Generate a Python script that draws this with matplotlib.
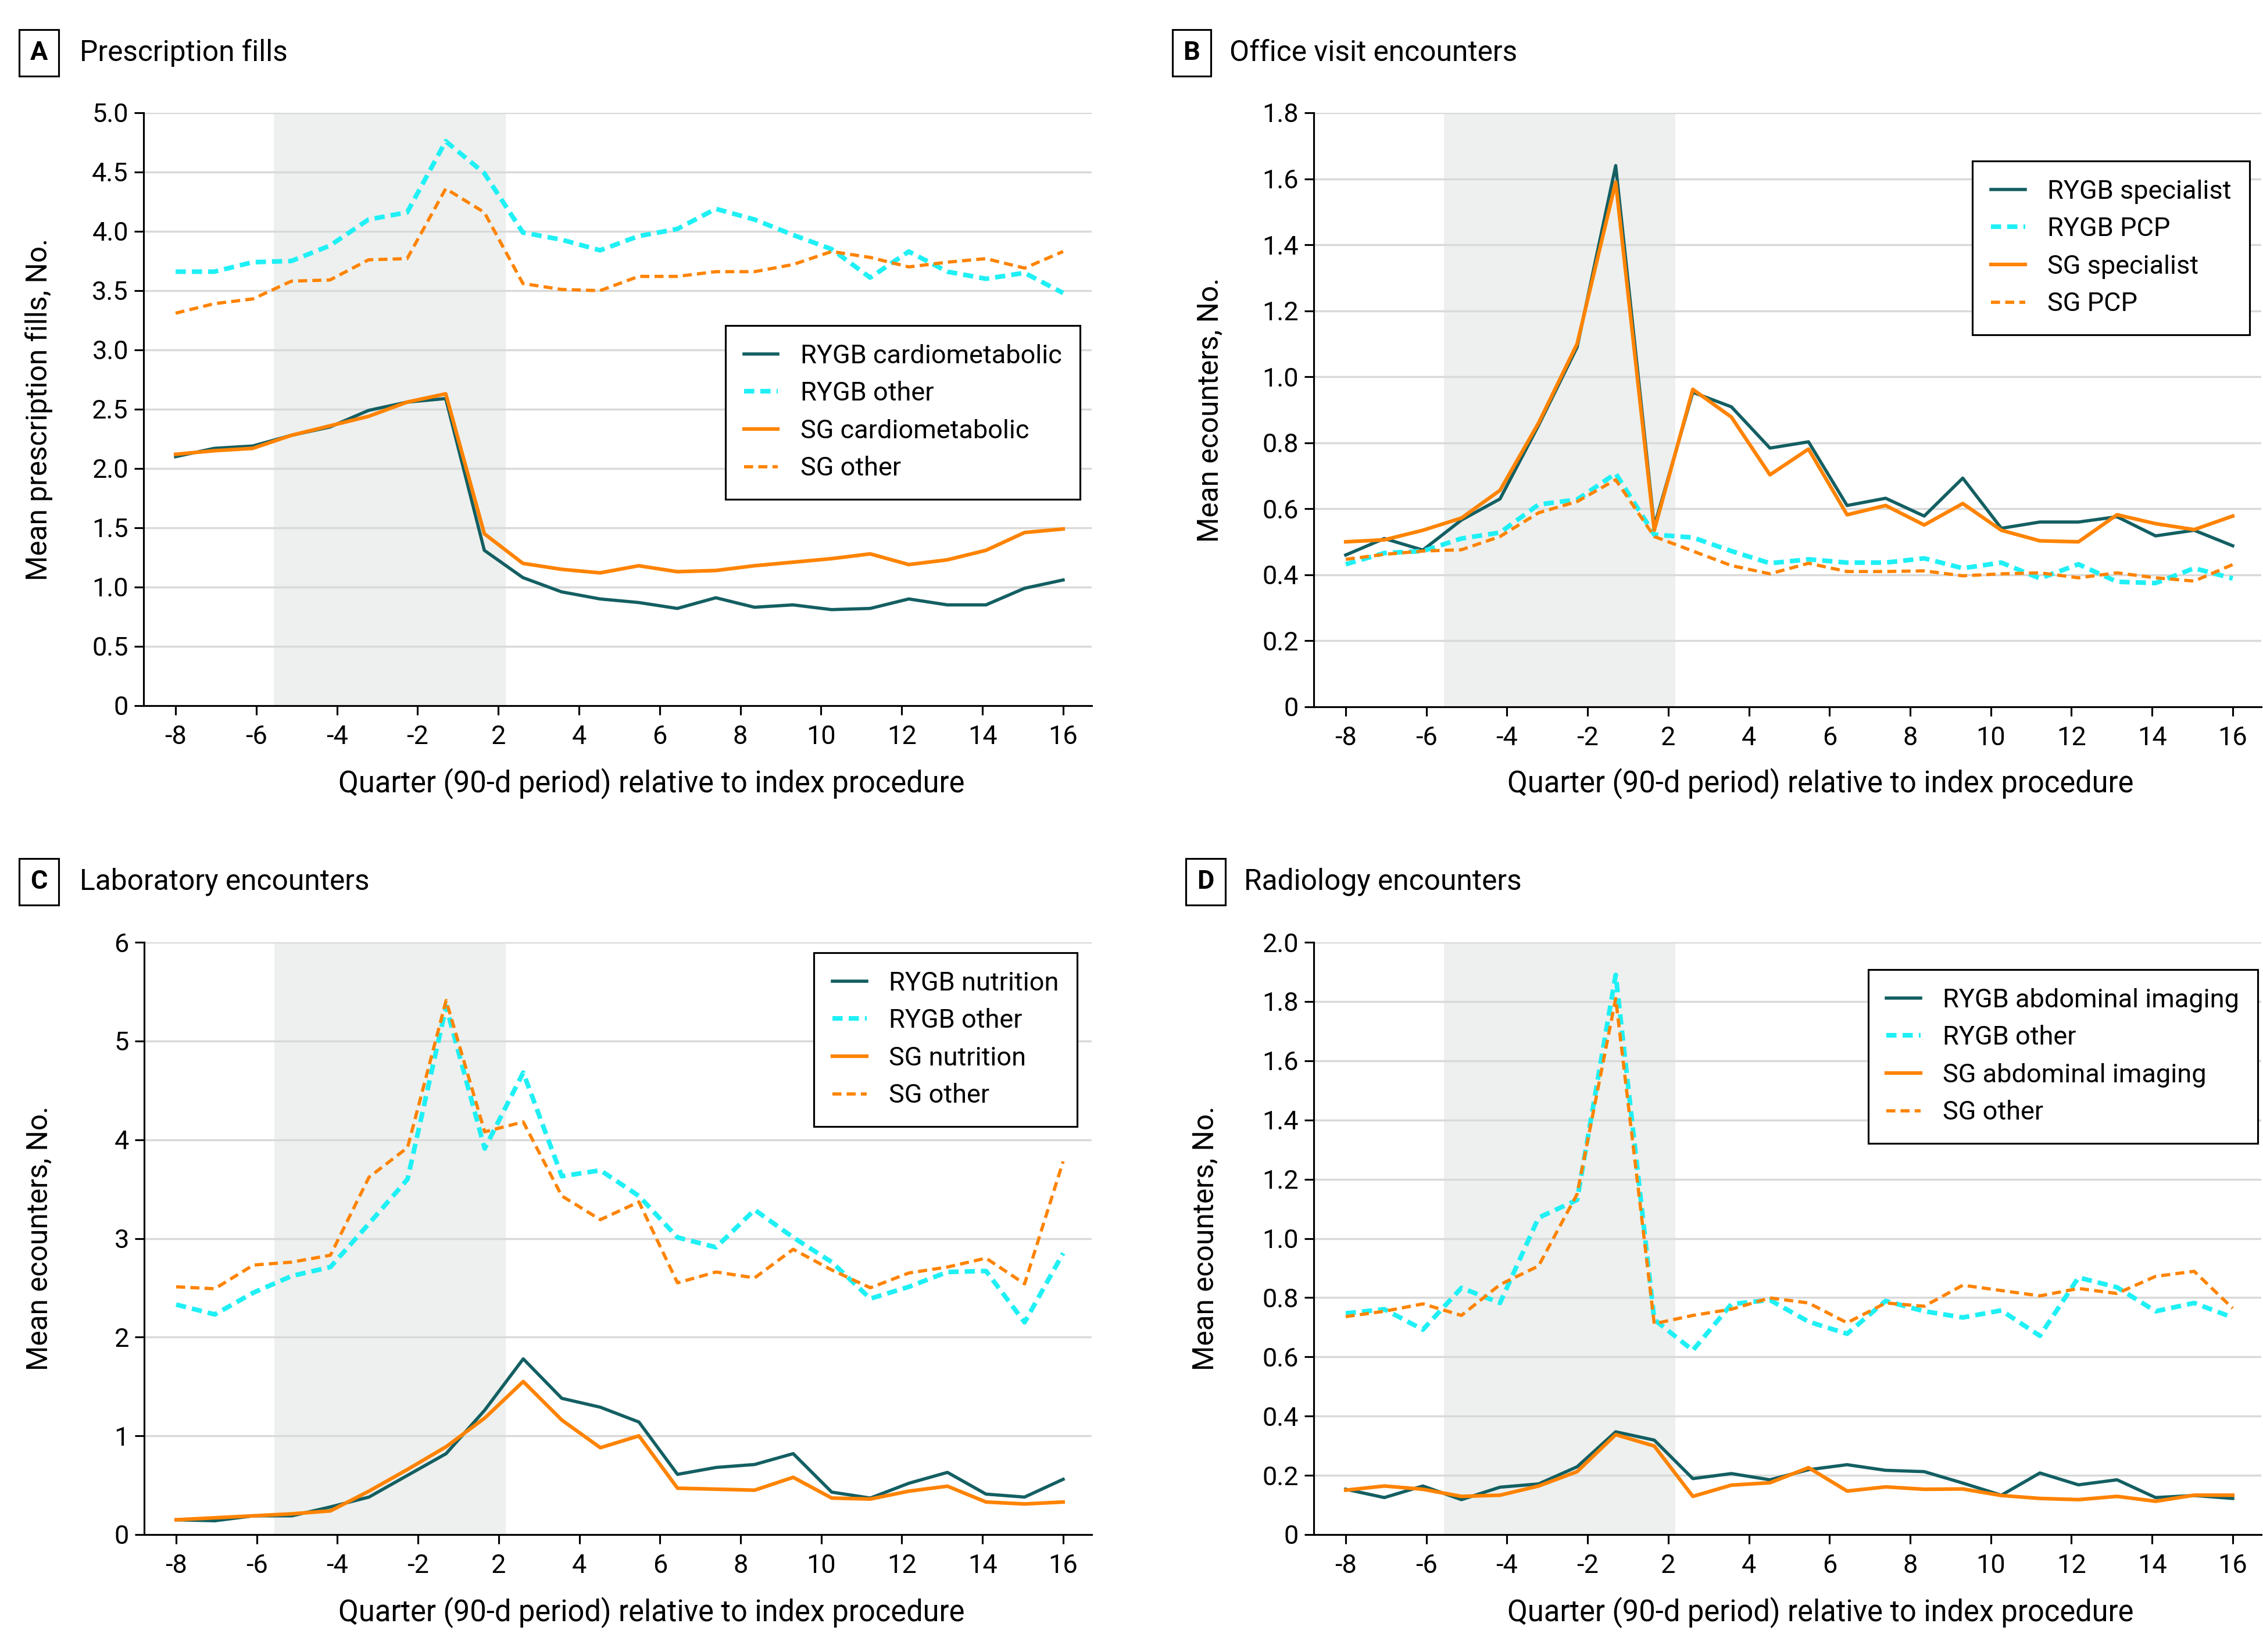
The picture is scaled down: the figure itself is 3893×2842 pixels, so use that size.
import matplotlib
matplotlib.use("Agg")
import matplotlib.pyplot as plt
import numpy as np

plt.rcParams['font.family'] = ['Roboto', 'DejaVu Sans']

W, H = 3893, 2842

# quarters relative to the index procedure (no quarter 0)
quarters = [-8, -7, -6, -5, -4, -3, -2, -1, 1, 2, 3, 4, 5, 6, 7, 8, 9, 10, 11, 12, 13, 14, 15, 16]
quarter_labels = ['-8', '-6', '-4', '-2', '2', '4', '6', '8', '10', '12', '14', '16']

# A: prescription fills
rx_rygb_cardio = [2.10, 2.17, 2.19, 2.28, 2.35, 2.49, 2.56, 2.59, 1.31, 1.08, 0.96, 0.90,
                  0.87, 0.82, 0.91, 0.83, 0.85, 0.81, 0.82, 0.90, 0.85, 0.85, 0.99, 1.06]
rx_rygb_other = [3.66, 3.66, 3.74, 3.75, 3.88, 4.10, 4.16, 4.76, 4.49, 3.99, 3.93, 3.84,
                 3.96, 4.02, 4.19, 4.10, 3.97, 3.85, 3.61, 3.83, 3.66, 3.60, 3.65, 3.48]
rx_sg_cardio = [2.12, 2.15, 2.17, 2.28, 2.36, 2.44, 2.56, 2.63, 1.45, 1.20, 1.15, 1.12,
                1.18, 1.13, 1.14, 1.18, 1.21, 1.24, 1.28, 1.19, 1.23, 1.31, 1.46, 1.49]
rx_sg_other = [3.31, 3.39, 3.43, 3.58, 3.59, 3.76, 3.77, 4.36, 4.16, 3.56, 3.51, 3.50,
               3.62, 3.62, 3.66, 3.66, 3.72, 3.83, 3.78, 3.70, 3.74, 3.77, 3.69, 3.83]

# B: office visit encounters
ov_rygb_spec = [0.46, 0.51, 0.475, 0.566, 0.63, 0.853, 1.09, 1.64, 0.547, 0.953, 0.909, 0.784,
                0.803, 0.61, 0.632, 0.578, 0.693, 0.541, 0.56, 0.56, 0.576, 0.518, 0.535, 0.488]
ov_rygb_pcp = [0.432, 0.466, 0.472, 0.51, 0.528, 0.613, 0.628, 0.707, 0.522, 0.513, 0.472, 0.435,
               0.447, 0.437, 0.437, 0.45, 0.42, 0.437, 0.389, 0.432, 0.379, 0.375, 0.42, 0.389]
ov_sg_spec = [0.50, 0.506, 0.535, 0.572, 0.656, 0.86, 1.10, 1.59, 0.535, 0.962, 0.878, 0.703,
              0.781, 0.582, 0.61, 0.551, 0.616, 0.535, 0.503, 0.50, 0.582, 0.555, 0.537, 0.578]
ov_sg_pcp = [0.447, 0.462, 0.472, 0.476, 0.516, 0.588, 0.622, 0.688, 0.516, 0.472, 0.428, 0.403,
             0.435, 0.41, 0.41, 0.412, 0.397, 0.403, 0.406, 0.391, 0.406, 0.391, 0.381, 0.431]

# C: laboratory encounters
lab_rygb_nutr = [0.15, 0.14, 0.19, 0.19, 0.28, 0.38, 0.60, 0.82, 1.26, 1.78, 1.38, 1.29,
                 1.14, 0.61, 0.68, 0.71, 0.82, 0.43, 0.37, 0.52, 0.63, 0.41, 0.38, 0.56]
lab_rygb_other = [2.33, 2.23, 2.45, 2.62, 2.71, 3.15, 3.60, 5.35, 3.91, 4.68, 3.63, 3.69,
                  3.43, 3.01, 2.91, 3.29, 3.01, 2.76, 2.39, 2.51, 2.66, 2.67, 2.15, 2.85]
lab_sg_nutr = [0.15, 0.17, 0.19, 0.21, 0.24, 0.44, 0.66, 0.89, 1.18, 1.55, 1.16, 0.88,
               1.00, 0.47, 0.46, 0.45, 0.58, 0.37, 0.36, 0.44, 0.49, 0.33, 0.31, 0.33]
lab_sg_other = [2.51, 2.49, 2.73, 2.76, 2.83, 3.62, 3.92, 5.41, 4.08, 4.18, 3.43, 3.19,
                3.37, 2.55, 2.66, 2.60, 2.89, 2.68, 2.50, 2.65, 2.71, 2.80, 2.54, 3.78]

# D: radiology encounters
rad_rygb_abd = [0.153, 0.125, 0.164, 0.118, 0.160, 0.171, 0.229, 0.347, 0.319, 0.189, 0.206, 0.185,
                0.219, 0.236, 0.217, 0.2125, 0.174, 0.133, 0.208, 0.168, 0.185, 0.125, 0.132, 0.122]
rad_rygb_other = [0.747, 0.761, 0.692, 0.833, 0.782, 1.07, 1.13, 1.89, 0.726, 0.622, 0.778, 0.792,
                  0.719, 0.678, 0.789, 0.754, 0.733, 0.757, 0.671, 0.868, 0.835, 0.754, 0.782, 0.733]
rad_sg_abd = [0.15, 0.164, 0.153, 0.129, 0.133, 0.164, 0.2125, 0.3375, 0.299, 0.129, 0.167, 0.175,
              0.226, 0.147, 0.161, 0.153, 0.154, 0.132, 0.122, 0.118, 0.129, 0.1125, 0.133, 0.133]
rad_sg_other = [0.736, 0.754, 0.779, 0.740, 0.844, 0.907, 1.15, 1.81, 0.712, 0.740, 0.761, 0.799,
                0.782, 0.715, 0.782, 0.771, 0.842, 0.824, 0.806, 0.831, 0.814, 0.872, 0.889, 0.764]

TEAL = '#135f62'
CYAN = '#1ff0f5'
ORANGE = '#ff8300'
SHADE = '#edf0ee'
GRID = '#d9d9d9'

x = np.arange(len(quarters))
xticks = np.linspace(0, len(quarters) - 1, len(quarter_labels))

fig = plt.figure(figsize=(W / 250, H / 250), dpi=250)


def draw_panel(rect, series, names, yticks, ylabels, ylabel, letter, title,
               box_x, title_x, head_y, ylab_x, xlab_x, xlab_y, leg_corner):
    ax = fig.add_axes(rect)
    # shaded window around the procedure
    ax.axvspan(2.55, 8.55, color=SHADE, lw=0, zorder=0)
    styles = [dict(color=TEAL, lw=1.6),
              dict(color=CYAN, lw=2.3, dashes=(2.2, 1.3)),
              dict(color=ORANGE, lw=1.8),
              dict(color=ORANGE, lw=1.6, dashes=(2.8, 1.6))]
    for vals, name, st in zip(series, names, styles):
        ax.plot(x, vals, label=name, zorder=3, **st)
    ax.set_xlim(-0.83, 23.74)
    ax.set_ylim(yticks[0], yticks[-1])
    ax.set_xticks(xticks)
    ax.set_xticklabels(quarter_labels)
    ax.set_yticks(yticks)
    ax.set_yticklabels(ylabels)
    ax.grid(axis='y', color=GRID, lw=1.0, zorder=1)
    ax.set_axisbelow(True)
    for s in ['top', 'right']:
        ax.spines[s].set_visible(False)
    for s in ['left', 'bottom']:
        ax.spines[s].set_linewidth(0.9)
        ax.spines[s].set_zorder(4)
    ax.tick_params(length=4.5, width=0.9, labelsize=13, colors='black')
    ax.tick_params(axis='x', pad=5)
    ax.tick_params(axis='y', pad=3)

    leg = ax.legend(loc='upper right', bbox_to_anchor=leg_corner, bbox_transform=fig.transFigure,
                    borderaxespad=0, frameon=True, fancybox=False, fontsize=13,
                    handlelength=1.3, handletextpad=0.85, labelspacing=0.5,
                    borderpad=0.7)
    leg.get_frame().set_edgecolor('black')
    leg.get_frame().set_linewidth(0.9)
    leg.get_frame().set_alpha(1)

    # panel letter and title
    fig.text(box_x, head_y, letter, fontsize=13, fontweight='bold', ha='center', va='center',
             bbox=dict(boxstyle='square,pad=0.42', fc='white', ec='black', lw=0.9))
    fig.text(title_x, head_y, title, fontsize=14.3, ha='left', va='center')
    yc = rect[1] + rect[3] / 2
    fig.text(ylab_x, yc, ylabel, fontsize=14.3, rotation=90, ha='center', va='center')
    fig.text(xlab_x, xlab_y, 'Quarter (90-d period) relative to index procedure',
             fontsize=14.6, ha='center', va='center')
    return ax


rectA = [247 / W, 1 - 1214 / H, 1631 / W, 1020 / H]
rectB = [2260 / W, 1 - 1216 / H, 1630 / W, 1022 / H]
rectC = [248 / W, 1 - 2640 / H, 1630 / W, 1019 / H]
rectD = [2260 / W, 1 - 2640 / H, 1630 / W, 1019 / H]

draw_panel(rectA, [rx_rygb_cardio, rx_rygb_other, rx_sg_cardio, rx_sg_other],
           ['RYGB cardiometabolic', 'RYGB other', 'SG cardiometabolic', 'SG other'],
           np.arange(0, 5.01, 0.5), ['0'] + ['%.1f' % v for v in np.arange(0.5, 5.01, 0.5)],
           'Mean prescription fills, No.', 'A', 'Prescription fills',
           67 / W, 137 / W, 1 - 91 / H, 67 / W, 1121 / W, 1 - 1348 / H,
           (1858 / W, 1 - 560 / H))

draw_panel(rectB, [ov_rygb_spec, ov_rygb_pcp, ov_sg_spec, ov_sg_pcp],
           ['RYGB specialist', 'RYGB PCP', 'SG specialist', 'SG PCP'],
           np.arange(0, 1.81, 0.2), ['0'] + ['%.1f' % v for v in np.arange(0.2, 1.81, 0.2)],
           'Mean ecounters, No.', 'B', 'Office visit encounters',
           2050 / W, 2115 / W, 1 - 91 / H, 2081 / W, 3132 / W, 1 - 1348 / H,
           (3870 / W, 1 - 277 / H))

draw_panel(rectC, [lab_rygb_nutr, lab_rygb_other, lab_sg_nutr, lab_sg_other],
           ['RYGB nutrition', 'RYGB other', 'SG nutrition', 'SG other'],
           np.arange(0, 7, 1), [str(v) for v in range(7)],
           'Mean ecounters, No.', 'C', 'Laboratory encounters',
           67 / W, 137 / W, 1 - 1517 / H, 67 / W, 1121 / W, 1 - 2774 / H,
           (1853 / W, 1 - 1639 / H))

draw_panel(rectD, [rad_rygb_abd, rad_rygb_other, rad_sg_abd, rad_sg_other],
           ['RYGB abdominal imaging', 'RYGB other', 'SG abdominal imaging', 'SG other'],
           np.arange(0, 2.01, 0.2), ['0'] + ['%.1f' % v for v in np.arange(0.2, 2.01, 0.2)],
           'Mean ecounters, No.', 'D', 'Radiology encounters',
           2074 / W, 2140 / W, 1 - 1517 / H, 2073 / W, 3132 / W, 1 - 2774 / H,
           (3884 / W, 1 - 1668 / H))

fig.savefig('out.png', dpi=250, facecolor='white')
